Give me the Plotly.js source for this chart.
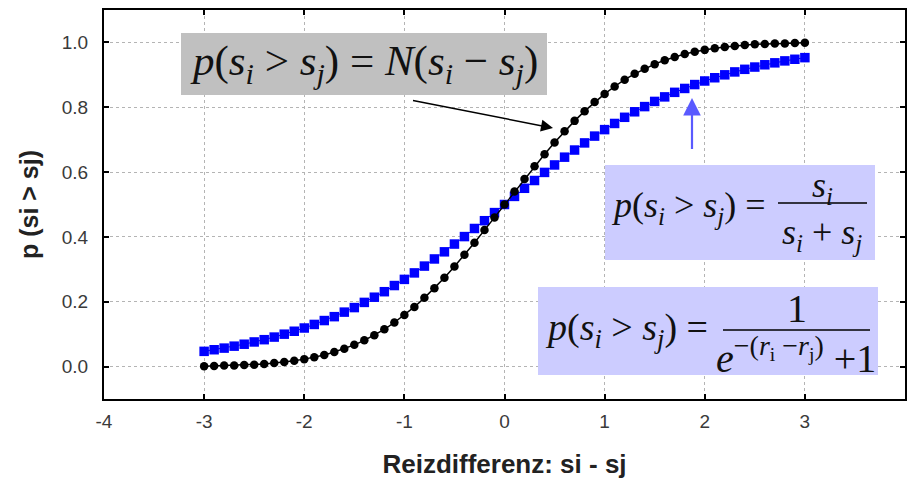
<!DOCTYPE html>
<html>
<head>
<meta charset="utf-8">
<script src="https://cdn.plot.ly/plotly-3.0.1.min.js"></script>
<style>html,body{margin:0;padding:0;background:#fff;}#chart{width:907px;height:486px;}</style>
</head>
<body>
<div id="chart"></div>
<script>
// ---- data ----
const xValues = [-3.0,-2.9,-2.8,-2.7,-2.6,-2.5,-2.4,-2.3,-2.2,-2.1,-2.0,-1.9,-1.8,-1.7,-1.6,-1.5,-1.4,-1.3,-1.2,-1.1,-1.0,-0.9,-0.8,-0.7,-0.6,-0.5,-0.4,-0.3,-0.2,-0.1,0.0,0.1,0.2,0.3,0.4,0.5,0.6,0.7,0.8,0.9,1.0,1.1,1.2,1.3,1.4,1.5,1.6,1.7,1.8,1.9,2.0,2.1,2.2,2.3,2.4,2.5,2.6,2.7,2.8,2.9,3.0];
const normalValues = [0.001,0.002,0.003,0.003,0.005,0.006,0.008,0.011,0.014,0.018,0.023,0.029,0.036,0.045,0.055,0.067,0.081,0.097,0.115,0.136,0.159,0.184,0.212,0.242,0.274,0.309,0.345,0.382,0.421,0.460,0.500,0.540,0.579,0.618,0.655,0.691,0.726,0.758,0.788,0.816,0.841,0.864,0.885,0.903,0.919,0.933,0.945,0.955,0.964,0.971,0.977,0.982,0.986,0.989,0.992,0.994,0.995,0.997,0.997,0.998,0.999];
const logisticValues = [0.047,0.052,0.057,0.063,0.069,0.076,0.083,0.091,0.100,0.109,0.119,0.130,0.142,0.154,0.168,0.182,0.198,0.214,0.231,0.250,0.269,0.289,0.310,0.332,0.354,0.378,0.401,0.426,0.450,0.475,0.500,0.525,0.550,0.574,0.599,0.622,0.646,0.668,0.690,0.711,0.731,0.750,0.769,0.786,0.802,0.818,0.832,0.846,0.858,0.870,0.881,0.891,0.900,0.909,0.917,0.924,0.931,0.937,0.943,0.948,0.953];
const xTickVals = [-4,-3,-2,-1,0,1,2,3,4];
const xTickText = ['-4','-3','-2','-1','0','1','2','3','4'];
const yTickVals = [0,0.2,0.4,0.6,0.8,1.0];
const yTickText = ['0.0','0.2','0.4','0.6','0.8','1.0'];
const xTitle = 'Reizdifferenz: si - sj';
const yTitle = 'p (si &gt; sj)';

// ---- geometry helpers (pixel -> paper) ----
const M = {l:104, r:2, t:10, b:87};
const W = 907 - M.l - M.r, H = 486 - M.t - M.b;
const px = X => (X - M.l) / W;
const py = Y => (486 - M.b - Y) / H;

const serif = 'Liberation Serif, Times New Roman, serif';
const si = '<i>s</i><sub><i>i</i></sub>';
const sj = '<i>s</i><sub><i>j</i></sub>';
const lhs = '<i>p</i>(' + si + ' &gt; ' + sj + ') =';

const traces = [
  {x: xValues, y: logisticValues, type: 'scatter', mode: 'lines+markers',
   line: {color: '#0000ff', width: 1},
   marker: {symbol: 'square', size: 9.5, color: '#0000ff'}, name: 'logistisch'},
  {x: xValues, y: normalValues, type: 'scatter', mode: 'lines+markers',
   line: {color: '#000000', width: 1.5},
   marker: {symbol: 'circle', size: 8.5, color: '#000000'}, name: 'normal'}
];

const shapes = [
  {type:'rect', xref:'paper', yref:'paper', x0:px(181), x1:px(547), y0:py(95), y1:py(33), fillcolor:'#c0c0c0', line:{width:0}, layer:'above'},
  {type:'rect', xref:'paper', yref:'paper', x0:px(605), x1:px(875), y0:py(260), y1:py(165), fillcolor:'#ccccff', line:{width:0}, layer:'above'},
  {type:'rect', xref:'paper', yref:'paper', x0:px(538), x1:px(878), y0:py(375), y1:py(287), fillcolor:'#ccccff', line:{width:0}, layer:'above'},
  {type:'line', xref:'paper', yref:'paper', x0:px(778), x1:px(867), y0:py(203), y1:py(203), line:{color:'#000', width:1.5}, layer:'above'},
  {type:'line', xref:'paper', yref:'paper', x0:px(723), x1:px(870), y0:py(330), y1:py(330), line:{color:'#000', width:1.5}, layer:'above'}
];

const ann = (text, X, Y, size, xanchor) => ({
  xref:'paper', yref:'paper', x:px(X), y:py(Y), text:text, showarrow:false,
  xanchor:xanchor || 'center', yanchor:'middle', font:{family:serif, size:size, color:'#111'}
});

const annotations = [
  ann(lhs + ' <i>N</i>(' + si + ' − ' + sj + ')', 364, 64, 43),
  ann(lhs, 609, 208, 36, 'left'),
  ann(si, 822, 187, 36),
  ann(si + ' + ' + sj, 822, 234, 36),
  ann(lhs, 543, 330, 38, 'left'),
  ann('1', 797, 308, 40),
  ann('<i>e</i><sup>−(<i>r</i><sub>i</sub> −<i>r</i><sub>j</sub>)</sup> +1', 796, 355, 40),
  {xref:'paper', yref:'paper', x:px(553), y:py(128), ax:-143, ay:-28, text:' ', showarrow:true,
   arrowhead:2, arrowsize:1.6, arrowwidth:1.5, arrowcolor:'#000'},
  {xref:'paper', yref:'paper', x:px(692), y:py(98), ax:0, ay:61, text:' ', showarrow:true,
   arrowhead:2, arrowsize:1.6, arrowwidth:2.2, arrowcolor:'#5a5aff'}
];

const axisCommon = {
  showline:true, linecolor:'#000', linewidth:2, mirror:'ticks',
  ticks:'inside', ticklen:5, tickwidth:1.5, tickcolor:'#000',
  showgrid:true, gridcolor:'#b4b4b4', gridwidth:1, griddash:'dot',
  zeroline:false, automargin:false,
  tickfont:{family:'Liberation Sans, Arial, sans-serif', size:19, color:'#3a3a3a'}
};

const layout = {
  width:907, height:486, margin:M, showlegend:false,
  paper_bgcolor:'#fff', plot_bgcolor:'#fff',
  xaxis: Object.assign({}, axisCommon, {
    range:[-4,4], tickmode:'array', tickvals:xTickVals, ticktext:xTickText,
    ticklabelstandoff:4,
    title:{text:xTitle, standoff:24, font:{family:'Liberation Sans, Arial, sans-serif', size:26, color:'#222', weight:'bold'}}
  }),
  yaxis: Object.assign({}, axisCommon, {
    range:[-0.1,1.1], tickmode:'array', tickvals:yTickVals, ticktext:yTickText,
    ticklabelstandoff:10,
    title:{text:yTitle, standoff:16, font:{family:'Liberation Sans, Arial, sans-serif', size:25, color:'#222', weight:'bold'}}
  }),
  shapes:shapes, annotations:annotations
};

Plotly.newPlot('chart', traces, layout, {displayModeBar:false});
</script>
</body>
</html>
